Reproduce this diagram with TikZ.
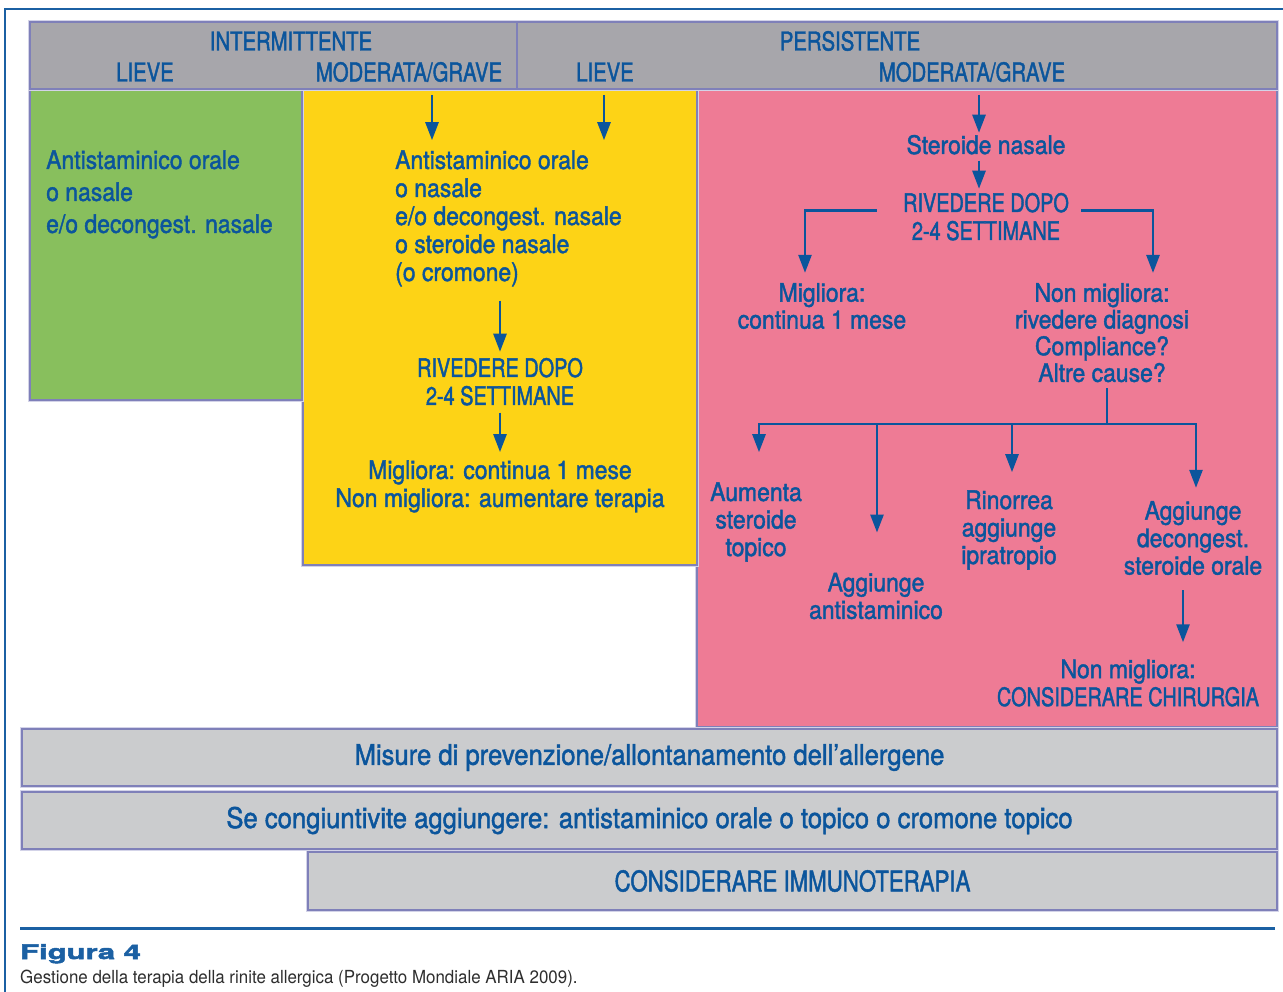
\documentclass[tikz,border=0pt]{standalone}
\usepackage{fontspec}
\usetikzlibrary{arrows.meta}
\newfontfamily\mixfont{TeX Gyre Heros}[FakeStretch=0.9, FakeBold=1.6]
\newfontfamily\capfont{TeX Gyre Heros}[FakeStretch=0.78, FakeBold=1.6]
\newfontfamily\plainfont{TeX Gyre Heros}[FakeStretch=0.94]
\newfontfamily\figfont{TeX Gyre Heros}[FakeStretch=1.55, FakeBold=2.5]
\definecolor{inkblue}{HTML}{0B559C}
\definecolor{frameblue}{HTML}{1B60A3}
\definecolor{hdrgrey}{HTML}{A7A6AB}
\definecolor{bargrey}{HTML}{CBCCCE}
\definecolor{leafgreen}{HTML}{88BF5D}
\definecolor{sunyellow}{HTML}{FDD316}
\definecolor{rosepink}{HTML}{EE7B95}
\definecolor{edgeviolet}{HTML}{7F80B9}
\definecolor{haloviolet}{HTML}{D3D3E8}
\definecolor{captiongrey}{HTML}{2E2E2E}
\begin{document}
\begin{tikzpicture}[x=1pt,y=-1pt,
  box/.style={draw=edgeviolet, line width=1.1pt,
    preaction={draw=haloviolet, line width=4pt},
    inner sep=0pt, outer sep=0pt, anchor=north west},
  mix/.style={text=inkblue, font=\mixfont\fontsize{25.5}{28}\selectfont,
    inner sep=0pt, align=center},
  caps/.style={text=inkblue, font=\capfont\fontsize{25.5}{28}\selectfont,
    inner sep=0pt, align=center},
  hcap/.style={text=inkblue, font=\capfont\fontsize{26}{28}\selectfont,
    inner sep=0pt},
  bartext/.style={text=inkblue, font=\mixfont\fontsize{28.5}{30}\selectfont},
  arr/.style={draw=inkblue, line width=2.6pt,
    -{Triangle[width=13pt,length=18pt]}},
  link/.style={draw=inkblue, line width=2.6pt},
]
\useasboundingbox (0,0) rectangle (1283,992);
\fill[white] (0,0) rectangle (1283,992);

% outer frame
\draw[frameblue, line width=2.6pt] (5,992) -- (5,9) -- (1283,9);

% coloured panels
\node[box, fill=rosepink, minimum width=580pt, minimum height=637pt] (pink) at (697,90) {};
\node[box, fill=sunyellow, minimum width=394pt, minimum height=475pt] (yellow) at (303,90) {};
\node[box, fill=leafgreen, minimum width=272pt, minimum height=310pt] (green) at (30,90) {};

% header band
\node[box, fill=hdrgrey, minimum width=1247pt, minimum height=67pt] (hdr) at (30,22) {};
\draw[edgeviolet, line width=1.1pt] (hdr.north west -| 517,0) -- (hdr.south west -| 517,0);
\node[hcap] (intm) at (291,41) {INTERMITTENTE};
\node[hcap] (pers) at (850,41) {PERSISTENTE};
\node[hcap] (lieveA) at (145,72) {LIEVE};
\node[hcap] (modA) at (409,72) {MODERATA/GRAVE};
\node[hcap] (lieveB) at (605,72) {LIEVE};
\node[hcap] (modB) at (972,72) {MODERATA/GRAVE};

% intermittent mild
\node[mix, align=left, anchor=west, font=\mixfont\fontsize{25.5}{32}\selectfont] (gtx) at (46,194.4)
  {Antistaminico orale\\o nasale\\e/o decongest. nasale};

% intermittent moderate/severe and persistent mild
\node[mix, align=left, anchor=west] (ytx) at (395,218.4)
  {Antistaminico orale\\o nasale\\e/o decongest. nasale\\o steroide nasale\\(o cromone)};
\node[caps] (yriv) at (500,381.7) {RIVEDERE DOPO\\2-4 SETTIMANE};
\node[mix] (ymig) at (500,486.4) {Migliora: continua 1 mese\\Non migliora: aumentare terapia};

\coordinate (ysA) at (432,95);
\coordinate (ysB) at (604,95);
\draw[arr, shorten >=10pt] (ysA) -- (ysA |- ytx.north);
\draw[arr, shorten >=10pt] (ysB) -- (ysB |- ytx.north);
\draw[arr, shorten <=14pt, shorten >=6pt] (ytx.south -| yriv) -- (yriv.north);
\draw[arr, shorten <=7pt, shorten >=8pt] (yriv.south) -- (ymig.north);

% persistent moderate/severe
\coordinate (ps) at (979,95);
\node[mix] (st) at (986,144.7) {Steroide nasale};
\node[caps] (priv) at (986,216.7) {RIVEDERE DOPO\\2-4 SETTIMANE};
\node[mix, font=\mixfont\fontsize{25.5}{27}\selectfont] (pmig) at (822,306) {Migliora:\\continua 1 mese};
\node[mix, font=\mixfont\fontsize{25.5}{26.7}\selectfont] (pnon) at (1102,332.7)
  {Non migliora:\\rivedere diagnosi\\Compliance?\\Altre cause?};
\draw[arr, shorten >=2pt] (ps) -- (ps |- st.north);
\draw[arr, shorten <=6pt, shorten >=4pt] (st.south -| ps) -- (priv.north -| ps);
\draw[arr, shorten >=10pt] ([xshift=-26pt,yshift=6pt]priv.west) -| ([xshift=-17pt]pmig.north);
\draw[arr, shorten >=10pt] ([xshift=12pt,yshift=6pt]priv.east) -| ([xshift=51pt]pnon.north);

\node[mix, font=\mixfont\fontsize{25.5}{27.5}\selectfont] (aum) at (756,522) {Aumenta\\steroide\\topico};
\node[mix, font=\mixfont\fontsize{25.5}{27.5}\selectfont] (aggA) at (876,596) {Aggiunge\\antistaminico};
\node[mix, font=\mixfont\fontsize{25.5}{27.5}\selectfont] (rin) at (1009,530) {Rinorrea\\aggiunge\\ipratropio};
\node[mix, font=\mixfont\fontsize{25.5}{27.5}\selectfont] (aggB) at (1193,538) {Aggiunge\\decongest.\\steroide orale};
\node[mix] (chir) at (1128,683) {Non migliora:\\{\capfont CONSIDERARE CHIRURGIA}};

\coordinate (jn) at (1107,424);
\draw[link, shorten <=6pt] ([xshift=5pt]pnon.south) -- (jn);
\draw[arr, shorten >=30pt] (jn) -| ([xshift=3pt]aum.north);
\draw[arr, shorten >=13pt] (jn) -| ([xshift=3pt]aggB.north);
\draw[arr, shorten >=40pt] ([xshift=1pt]aggA.north |- jn) -- ([xshift=1pt]aggA.north);
\draw[arr, shorten >=18pt] ([xshift=3pt]rin.north |- jn) -- ([xshift=3pt]rin.north);
\draw[arr, shorten <=15pt, shorten >=17pt] ([xshift=-10pt]aggB.south) -- ([xshift=-10pt]aggB.south |- chir.north);

% bands across the bottom
\node[box, fill=bargrey, minimum width=1255pt, minimum height=57pt] (barA) at (22,729) {};
\node[bartext] at (barA.center) {Misure di prevenzione/allontanamento dell’allergene};
\node[box, fill=bargrey, minimum width=1255pt, minimum height=57pt] (barB) at (22,792) {};
\node[bartext] at (barB.center) {Se congiuntivite aggiungere: antistaminico orale o topico o cromone topico};
\node[box, fill=bargrey, minimum width=969pt, minimum height=58pt] (barC) at (308,852) {};
\node[bartext, font=\capfont\fontsize{28.5}{30}\selectfont] at (barC.center) {CONSIDERARE IMMUNOTERAPIA};

% caption
\draw[frameblue, line width=3pt] (20,928) -- (1275,928);
\node[anchor=base west, inner sep=0pt, text=frameblue, font=\figfont\bfseries\fontsize{20}{22}\selectfont] (fig) at (20,959) {Figura 4};
\node[anchor=base west, inner sep=0pt, text=captiongrey, font=\plainfont\fontsize{18}{20}\selectfont] (cap) at (20,983)
  {Gestione della terapia della rinite allergica (Progetto Mondiale ARIA 2009).};
\end{tikzpicture}
\end{document}
